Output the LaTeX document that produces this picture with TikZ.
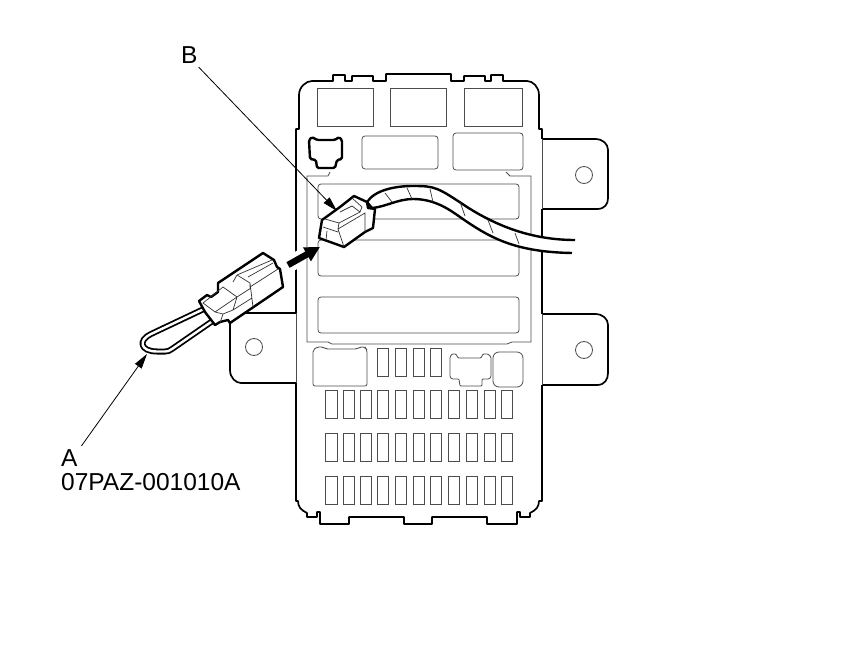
\documentclass[tikz,border=0pt]{standalone}
\usepackage{fontspec}
\setmainfont{Liberation Sans}
\usetikzlibrary{arrows.meta}
\tikzset{
	outline/.style = {line width=1.7pt, line join=round},
	part/.style = {line width=0.8pt, black!70},
	pin/.style = {part, rounded corners=3pt},
	plug/.style = {line width=2.4pt, fill=white, line join=round},
	crease/.style = {line width=0.7pt, black!80},
	leader/.style = {line width=0.8pt, -{Triangle[length=15pt, width=8pt]}},
	label/.style = {inner sep=0pt, font=\fontsize{24.5}{25}\selectfont}
}
\begin{document}
\begin{tikzpicture}[x=1pt, y=-1pt]
\useasboundingbox (0, 0) rectangle (860, 666);
% side tabs
\draw[outline]
	(296, 313) -- (230, 313) --
	(230, 370) .. controls +(0, 8) and +(-5, 0) ..
	(241, 383) -- (296, 383);
\draw[outline]
	(542, 139) -- (595, 139) .. controls +(8, 0) and +(0, -6) ..
	(608, 150) --
	(608, 198) .. controls +(0, 6) and +(8, 0) ..
	(597, 209) -- (542, 209);
\draw[outline]
	(542, 314) -- (595, 314) .. controls +(8, 0) and +(0, -6) ..
	(608, 325) --
	(608, 373) .. controls +(0, 6) and +(8, 0) ..
	(597, 385) -- (542, 385);
\draw[part] (584, 175) circle (8.5);
\draw[part] (584, 350) circle (8.5);
\draw[part] (254, 347) circle (8.5);
% box
\draw[part] (296, 313) -- (296, 383);
\draw[part] (542, 209) -- (542, 139);
\draw[part] (542, 385) -- (542, 314);
\draw[outline]
	(296, 313) -- (296, 129) -- (299, 129) --
	(299, 95) .. controls +(0, -8) and +(-6, 0) ..
	(312, 81) -- (333, 81) -- (333, 75) -- (345, 75) -- (345, 81) -- (352, 81) --
	(352, 76) -- (373, 76) -- (373, 81) -- (386, 81) -- (386, 74) -- (451, 74) --
	(451, 81) -- (464, 81) -- (464, 76) -- (485, 76) -- (485, 81) -- (491, 81) --
	(491, 75) -- (503, 75) -- (503, 81) -- (527, 81) .. controls +(6, 0) and +(0, -8) ..
	(539, 95) -- (539, 129) -- (542, 129) -- (542, 139);
\draw[outline]
	(542, 209) -- (542, 314);
\draw[outline]
	(542, 385) -- (542, 501) -- (539, 501) .. controls +(0, 6) and +(6, -3) ..
	(530, 513) -- (530, 517) -- (520, 517) -- (520, 512) -- (517, 512) -- (517, 524) --
	(487, 524) -- (487, 517) -- (432, 517) -- (432, 524) -- (404, 524) -- (404, 517) --
	(349, 517) -- (349, 524) -- (320, 524) -- (320, 512) -- (317, 512) -- (317, 517) --
	(307, 517) -- (307, 513) .. controls +(-6, -3) and +(0, 6) ..
	(298, 501) -- (296, 501) -- (296, 383);
% upper row
\draw[part] (317, 88) rectangle (373, 126);
\draw[part] (390, 88) rectangle (446, 126);
\draw[part] (464, 88) rectangle (522, 126);
\draw[pin] (362, 136) rectangle (438, 169);
\draw[pin] (453, 133) rectangle (523, 170);
\draw[plug, fill=none, rounded corners=1.5pt]
	(312, 137) -- (317, 140) -- (335, 140) -- (339, 137) -- (342, 140) -- (342, 159) --
	(337, 160) -- (335, 168) -- (317, 168) -- (316, 160) -- (310, 159) -- (309, 140) -- cycle;
% inner frame
\draw[part]
	(330, 172) -- (328, 176) -- (307, 176) -- (307, 342) -- (328, 342) -- (332, 344) --
	(507, 344) -- (512, 342) -- (531, 342) -- (531, 176) -- (510, 176) -- (506, 172);
\draw[pin] (318, 184) rectangle (519, 219);
\draw[pin] (318, 240) rectangle (519, 276);
\draw[pin] (318, 297) rectangle (519, 333);
% lower blocks
\draw[part, rounded corners=2pt]
	(313, 350) -- (317, 347) -- (323, 347) -- (326, 349) -- (357, 349) -- (360, 347) --
	(365, 347) -- (367, 350) -- (367, 386) -- (313, 386) -- cycle;
\draw[part, rounded corners=1pt]
	(450, 357) -- (452, 354) -- (456, 354) -- (458, 358) -- (481, 358) -- (483, 354) --
	(488, 354) -- (491, 357) -- (491, 377) -- (489, 379) -- (482, 379) -- (482, 386) --
	(460, 386) -- (459, 379) -- (452, 379) -- (450, 377) -- cycle;
\draw[part, rounded corners=6pt] (493, 352) rectangle (523, 387);
% fuses
\foreach \col in {377.3, 395.3, 413.3, 430.3}
	\draw[part] (\col, 348) rectangle +(11.5, 28);
\foreach \row in {390, 433, 476}
	\foreach \col in {325.5, 343, 360.3, 377.3, 395.3, 413.3, 430.3, 448.3, 466, 484.3, 501.3}
		\draw[part] (\col, \row) rectangle +(11.5, 28);
% harness
\draw[line width=2.4pt, fill=white]
	(575, 240) .. controls (535, 240) and (500, 228) ..
	(467, 207) .. controls (437, 187) and (435, 186) ..
	(413, 186) .. controls (395, 186) and (375, 190) ..
	(367, 202) -- (372, 208) .. controls (385, 207) and (398, 199) ..
	(413, 199) .. controls (435, 199) and (450, 210) ..
	(460, 217) .. controls (490, 238) and (515, 252) ..
	(572, 253);
\draw[crease] (385, 193) -- (392, 202);
\draw[crease] (407, 188) -- (412, 199);
\draw[crease] (430, 189) -- (433, 202);
\draw[crease] (460, 202) -- (465, 216);
\draw[crease] (488, 220) -- (493, 233);
\draw[crease] (515, 233) -- (519, 244);
% plug B
\draw[plug]
	(319, 238) -- (322, 220) -- (340, 207) -- (354, 196) -- (367, 202) -- (368, 208) --
	(375, 209) -- (373, 228) -- (365, 232) -- (344, 247) -- cycle;
\draw[crease]
	(325, 219) -- (339, 223) -- (360, 212) (339, 223) -- (338, 229) -- (365, 213) --
	(365, 232) (338, 229) -- (344, 247) (323, 227) -- (338, 232)
	(327, 231) -- (326, 240) (352, 198) -- (362, 207) -- (360, 212) -- (352, 206) -- (340, 212);
% test jumper
\draw[line width=1.8pt, double=white, double distance=2.4pt]
	(206, 308) -- (151, 334) .. controls +(-13, 6) and +(-17, 0) ..
	(157, 351.5) -- (165, 351.5) .. controls +(3, 0) and +(-3, 2) ..
	(172, 349) -- (214, 320);
\draw[line width=1.7pt, double=white, double distance=1.2pt] (205, 313) -- (213, 309);
% plug A
\draw[plug]
	(199, 301) -- (207, 295) -- (211, 297) -- (218, 292) -- (218, 283) -- (263, 253) --
	(274, 260) -- (277, 267) -- (280, 269) -- (283, 287) -- (230, 323) -- (228, 320) -- (220, 322) --
	(215, 325) -- (205, 312) -- cycle;
\draw[crease]
	(203, 303) -- (223, 287) -- (237, 297) -- (215, 312) -- cycle
	(237, 297) -- (251, 288) (237, 275) -- (272, 260) (237, 275) -- (250, 283) --
	(250, 287) -- (278, 269) (248, 277) -- (273, 263) (250, 283) -- (253, 307)
	(237, 275) -- (233, 282) (237, 297) -- (233, 310) -- (223, 314) -- (215, 312)
	(223, 314) -- (220, 323) (233, 310) -- (252, 298);
% insert arrow
\draw[white, line width=16pt] (288, 265) -- (302, 257);
\coordinate (pushtail) at (288, 265);
\coordinate (pushtip) at (320, 247);
\draw[line width=6.5pt, -{Triangle[length=15pt, width=15pt]}] (pushtail) -- (pushtip);
% labels
\node[label, anchor=base west] (labB) at (181, 63.5) {B};
\node[label, anchor=base west] (labA) at (61, 466) {A};
\node[label, anchor=base west] (labCode) at (61, 490) {07PAZ-001010A};
\coordinate (tipB) at (337, 211);
\coordinate (tipA) at (147, 354);
\draw[leader] (labB.south east) ++(1, 3.5) -- (tipB);
\draw[leader] (labA.north east) ++(3.7, -3) -- (tipA);
\end{tikzpicture}
\end{document}
